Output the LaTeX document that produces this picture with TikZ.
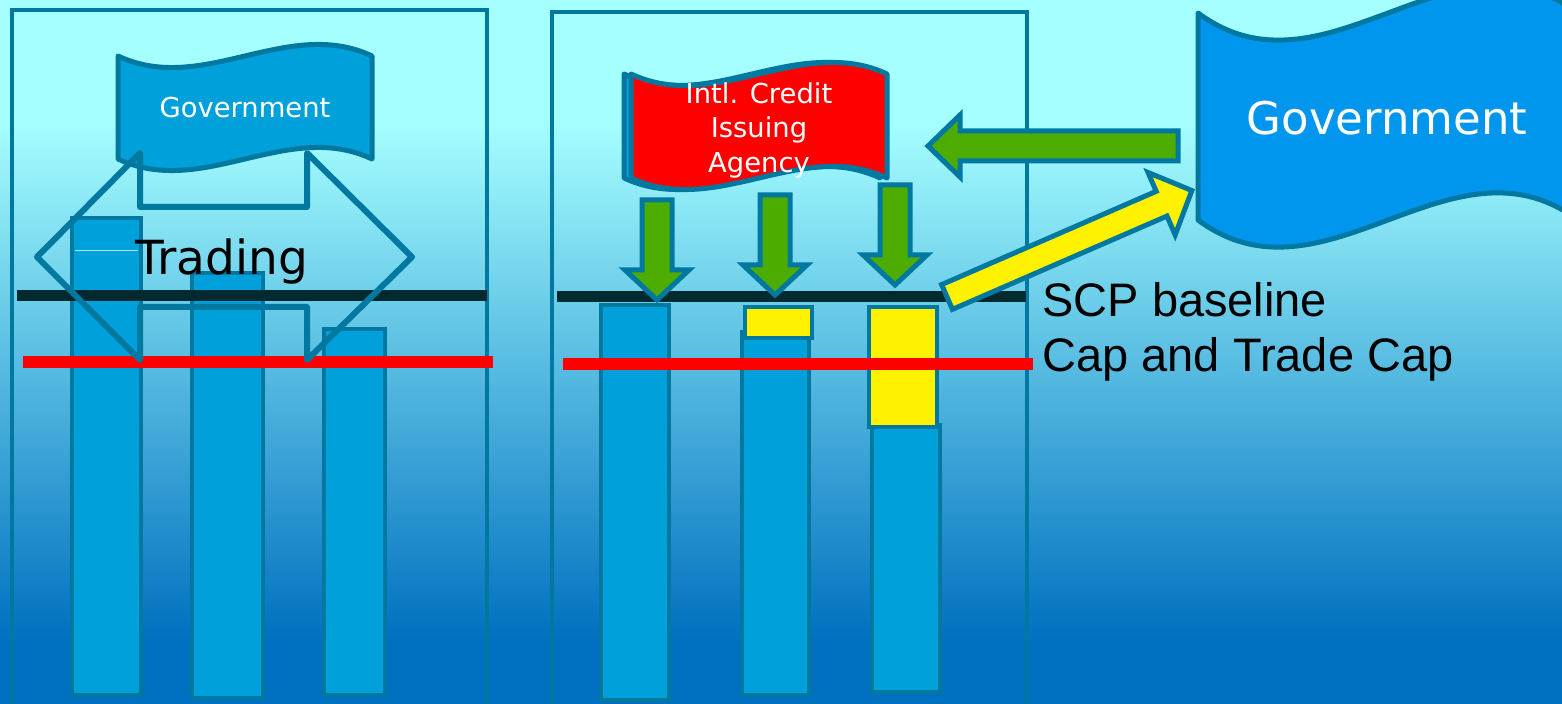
\documentclass[tikz,border=0pt]{standalone}
\usepackage{fontspec}
\setmainfont{DejaVu Sans}
\newfontfamily\arialfont{Liberation Sans}

\definecolor{bgtop}{RGB}{166,255,255}
\definecolor{bgbottom}{RGB}{0,112,192}
\definecolor{edgeblue}{RGB}{0,120,160}
\definecolor{barblue}{RGB}{0,160,218}
\definecolor{govblue}{RGB}{0,150,238}
\definecolor{arrowgreen}{RGB}{76,172,0}
\definecolor{darkline}{RGB}{0,42,48}

% wave flag: style, left x, top y, width, height, wave depth
\newcommand{\waveflag}[6]{%
  \draw[#1] (#2,#3) .. controls (#2+#4/3,#3+#6) and (#2+2*#4/3,#3-#6) .. (#2+#4,#3)
    -- (#2+#4,#3+#5) .. controls (#2+2*#4/3,#3+#5-#6) and (#2+#4/3,#3+#5+#6) .. (#2,#3+#5) -- cycle;}

\begin{document}
\begin{tikzpicture}[x=0.5pt, y=-0.5pt,
    panel/.style={draw=edgeblue, line width=2pt},
    bar/.style={draw=edgeblue, fill=barblue, line width=1.8pt},
    capbox/.style={draw=edgeblue, fill=yellow, line width=2pt},
    flag/.style={draw=edgeblue, line width=2.5pt, line join=round},
    blockarrow/.style={draw=edgeblue, fill=arrowgreen, line width=2.5pt},
    scpline/.style={draw=darkline, line width=5.5pt},
    capline/.style={draw=red, line width=6pt},
    txt/.style={inner sep=0pt}]
    \useasboundingbox (0,0) rectangle (1562,704);
    \clip (0,0) rectangle (1562,704);

    % background
    \fill[bgtop] (0,0) rectangle (1562,121);
    \shade[top color=bgtop, bottom color=bgbottom] (0,120) rectangle (1562,640);
    \fill[bgbottom] (0,639) rectangle (1562,704);

    % panels
    \draw[panel] (12,10) rectangle (487,720);
    \draw[panel] (552,12) rectangle (1027,720);

    % emission bars
    \foreach \xa/\xb/\ya/\yb in {72/141/218/695, 192/263/273/698, 324/385/329/695,
                                 601/669/305/700, 742/809/332/695, 872/940/425/692}
        \draw[bar] (\xa,\ya) rectangle (\xb,\yb);
    \draw[capbox] (745,307) rectangle (812,338);
    \draw[capbox] (869,307) rectangle (937,427);
    \draw[white!70!cyan, line width=0.5pt] (75,251) -- (138,251);

    % baseline and cap
    \draw[scpline] (17,296) -- (487,296);
    \draw[scpline] (557,297) -- (1026,297);
    \draw[capline] (23,362) -- (493,362);
    \draw[capline] (563,364) -- (1033,364);

    % flags
    \waveflag{flag, fill=barblue}{118}{56}{254}{103}{40}
    \waveflag{flag, fill=barblue}{624}{74}{256}{104}{40}
    \waveflag{flag, fill=red}{631}{74}{256}{104}{40}
    \waveflag{flag, fill=govblue}{1198}{13}{380}{207}{94}

    % trading arrow
    \draw[draw=edgeblue, line width=3pt, line join=round]
        (37,257) -- (140,153) -- (140,207) -- (307,207) -- (307,153) -- (412,257)
        -- (307,360) -- (307,307) -- (140,307) -- (140,360) -- cycle;

    % credits
    \foreach \cx/\ay in {657/200, 775/195, 895/185}
        \draw[blockarrow] (\cx-15,\ay) -- (\cx+15,\ay) -- (\cx+15,\ay+70) -- (\cx+32,\ay+70)
            -- (\cx,\ay+100) -- (\cx-32,\ay+70) -- (\cx-15,\ay+70) -- cycle;
    \draw[blockarrow] (928,146) -- (960,115) -- (960,131) -- (1178,131) -- (1178,161)
        -- (960,161) -- (960,177) -- cycle;
    \begin{scope}[shift={(947,297)}, rotate=23.5]
        \draw[blockarrow, fill=yellow] (0,-13.5) -- (234,-13.5) -- (234,-34) -- (267,0)
            -- (234,34) -- (234,13.5) -- (0,13.5) -- cycle;
    \end{scope}

    % texts
    \node[txt, text=white, font=\fontsize{13.7}{16}\selectfont, anchor=base] (govleft) at (245,118) {Government};
    \node[txt, text=white, font=\fontsize{22.5}{27}\selectfont, anchor=base] (govright) at (1387,135) {Government};
    \node[txt, text=white, align=center, font=\fontsize{13.7}{17.25}\selectfont] (agency) at (759,130) {Intl. Credit\\Issuing\\Agency};
    \node[txt, font=\fontsize{23.5}{28}\selectfont, anchor=base] (trading) at (222,275) {Trading};
    \node[txt, font=\arialfont\fontsize{23.5}{28}\selectfont, anchor=base west] (scp) at (1042,317) {SCP baseline};
    \node[txt, font=\arialfont\fontsize{23.5}{28}\selectfont, anchor=base west] (capcap) at (1042,372) {Cap and Trade Cap};
\end{tikzpicture}
\end{document}
